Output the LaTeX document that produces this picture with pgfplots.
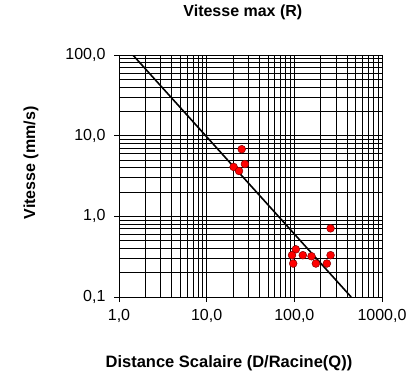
\documentclass[border=0pt]{standalone}
\usepackage{fontspec}
\setmainfont{Liberation Sans}
\usepackage{pgfplots}
\pgfplotsset{compat=1.18}
\begin{document}
\begin{tikzpicture}
\useasboundingbox (0,0) rectangle (414pt,376pt);
\begin{axis}[
  at={(119pt,79pt)}, anchor=south west,
  scale only axis, width=263pt, height=242pt,
  xmode=log, ymode=log,
  xmin=1, xmax=1000, ymin=0.1, ymax=100,
  xtick={1,10,100,1000}, xticklabels={{1,0},{10,0},{100,0},{1000,0}},
  ytick={0.1,1,10,100}, yticklabels={{0,1},{1,0},{10,0},{100,0}},
  minor xtick={2,3,4,5,6,7,8,9,20,30,40,50,60,70,80,90,200,300,400,500,600,700,800,900},
  minor ytick={0.2,0.3,0.4,0.5,0.6,0.7,0.8,0.9,2,3,4,5,6,7,8,9,20,30,40,50,60,70,80,90},
  grid=both,
  major grid style={black, line width=0.8pt},
  minor grid style={black, line width=0.8pt},
  axis line style={black, line width=0.8pt},
  tick align=outside, tick pos=left,
  major tick length=5pt, minor tick length=0pt,
  tick style={black, line width=0.8pt},
  /pgf/number format/assume math mode=true,
  ticklabel style={font=\fontsize{16}{18}\selectfont},
  xticklabel style={yshift=-4pt},
  yticklabel style={xshift=-5pt},
  title={Vitesse max (R)},
  title style={font=\fontsize{16}{18}\selectfont\bfseries, at={(axis description cs:0.471,1.153)}, anchor=center},
  xlabel={Distance Scalaire (D/Racine(Q))},
  xlabel style={font=\fontsize{16.5}{18}\selectfont\bfseries, at={(axis description cs:0.418,-0.273)}, anchor=center},
  ylabel={Vitesse (mm/s)},
  ylabel style={font=\fontsize{16}{18}\selectfont\bfseries, at={(axis description cs:-0.335,0.554)}, anchor=center},
]
\addplot[black, line width=1.6pt] coordinates {(1.44,100) (445,0.1)};
\addplot[only marks, mark=*, mark size=3.9pt, mark options={fill=red, draw=red!50!black, line width=0.5pt}] coordinates {
  (25.1,6.8) (27.3,4.45) (20.3,4.1) (23.4,3.65)
  (259,0.71) (104,0.39) (94,0.33) (125,0.33) (157,0.32) (259,0.33)
  (97,0.26) (176,0.26) (235,0.26)
};
\end{axis}
\end{tikzpicture}
\end{document}
